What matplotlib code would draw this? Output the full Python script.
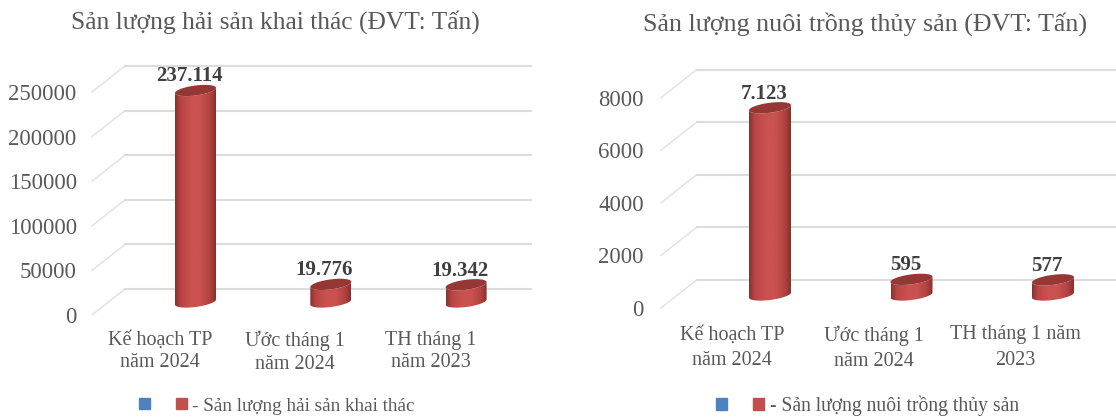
import numpy as np
import matplotlib
matplotlib.use("Agg")
import matplotlib.pyplot as plt
from matplotlib.colors import LinearSegmentedColormap
from matplotlib.patches import Patch, PathPatch
from matplotlib.path import Path

plt.rcParams['font.family'] = ['Liberation Serif', 'DejaVu Serif']

# Data
left_title = "Sản lượng hải sản khai thác (ĐVT: Tấn)"
left_categories = ["Kế hoạch TP\nnăm 2024", "Ước tháng 1\nnăm 2024", "TH tháng 1\nnăm 2023"]
left_values = [237114, 19776, 19342]
left_labels = ["237.114", "19.776", "19.342"]
left_ticks = [0, 50000, 100000, 150000, 200000, 250000]
left_legend = "- Sản lượng hải sản khai thác"

right_title = "Sản lượng nuôi trồng thủy sản (ĐVT: Tấn)"
right_categories = ["Kế hoạch TP\nnăm 2024", "Ước tháng 1\nnăm 2024", "TH tháng 1 năm\n2023"]
right_values = [7123, 595, 577]
right_labels = ["7.123", "595", "577"]
right_ticks = [0, 2000, 4000, 6000, 8000]
right_legend = "- Sản lượng nuôi trồng thủy sản"

W, H = 1116, 419
TEXT = "#595959"
GRID = "#dcdcdc"
bar_cmap = LinearSegmentedColormap.from_list(
    "bar", [(0, "#8a302e"), (0.14, "#b84644"), (0.4, "#ca5250"), (0.62, "#ca5250"),
            (0.86, "#b04240"), (1, "#85302e")])

fig = plt.figure(figsize=(W / 100, H / 100), dpi=100)


# Draw one chart with a fake 3D look. Geometry is given in picture pixels
def draw_chart(cfg, title, categories, values, labels, ticks, legend_text):
    x0, x1, zero_y, top_y, top_tick_y = cfg["x0"], cfg["x1"], cfg["zero_y"], cfg["top_y"], cfg["top_tick_y"]
    ax = fig.add_axes([x0 / W, 1 - zero_y / H, (x1 - x0) / W, (zero_y - top_y) / H])
    ax.patch.set_alpha(0)

    units_per_px = ticks[-1] / (zero_y - top_tick_y)
    cat_per_px = 1 / cfg["step"]
    xmin = -(cfg["first_cat"] - x0) * cat_per_px
    xmax = xmin + (x1 - x0) * cat_per_px
    ymax = (zero_y - top_y) * units_per_px

    # gridlines on floor edge and back wall
    dx = cfg["depth_x"] * cat_per_px
    dy = cfg["depth_y"] * units_per_px
    for t in ticks:
        ax.plot([xmin, xmin + dx], [t, t + dy], color="#e3e3e3", lw=1.1, zorder=1, clip_on=False)
        ax.plot([xmin + dx, xmax], [t + dy, t + dy], color=GRID, lw=1.5, zorder=1, clip_on=False)

    # cylinders
    a = cfg["bar_w"] / 2 * cat_per_px
    b = 5.0 * units_per_px
    k = 2.6 * units_per_px
    base = cfg["base_up"] * units_per_px
    shift = cfg["bar_shift"] * cat_per_px
    for i, v in enumerate(values):
        cx = i + shift
        top = v + base
        t = np.linspace(0, 2 * np.pi, 80)
        ell_x = cx + a * np.cos(t)
        ell_dy = b * np.sin(t) + k * np.cos(t)

        # outline of the body: top rim, then round the bottom rim
        lower = np.linspace(np.pi, 2 * np.pi, 40)
        low_x = cx + a * np.cos(lower)
        low_y = base + b * np.sin(lower) + k * np.cos(lower)
        upper_x = low_x[::-1]
        upper_y = top + b * np.sin(lower[::-1]) + k * np.cos(lower[::-1])
        verts = np.column_stack([np.r_[low_x, upper_x], np.r_[low_y, upper_y]])
        body = PathPatch(Path(np.vstack([verts, verts[0]])), transform=ax.transData,
                         facecolor="none", edgecolor="none")
        ax.add_patch(body)
        grad = np.linspace(0, 1, 128).reshape(1, -1)
        im = ax.imshow(grad, cmap=bar_cmap, aspect="auto", zorder=3,
                       extent=[cx - a, cx + a, base - 2 * b - k, top + 2 * b + k])
        im.set_clip_path(body)
        ax.fill(ell_x, top + ell_dy, color="#953735", lw=0, zorder=4)

        ax.text(i + cfg["label_shift"] * cat_per_px, top + 4 * units_per_px, labels[i],
                ha="center", va="bottom", fontsize=15, fontweight="bold", color="#404040",
                zorder=5, clip_on=False)

    ax.set_xlim(xmin, xmax)
    ax.set_ylim(0, ymax)
    ax.set_xticks(range(len(categories)))
    ax.set_xticklabels(categories, fontsize=14.5, color=TEXT, linespacing=cfg["line_gap"])
    ax.set_yticks(ticks)
    ax.set_yticklabels([str(t) for t in ticks], fontsize=16.4, color=TEXT)
    ax.tick_params(length=0)
    ax.tick_params(axis="x", pad=cfg["xpad"])
    ax.tick_params(axis="y", pad=cfg["ypad"])
    for spine in ax.spines.values():
        spine.set_visible(False)

    fig.text(cfg["title_x"] / W, 1 - cfg["title_y"] / H, title, ha="center", va="center",
             fontsize=cfg["title_size"], color=TEXT)

    handles = [Patch(color="#4f81bd"), Patch(color="#c0504d")]
    fig.legend(handles, ["", legend_text], ncols=2, frameon=False, fontsize=cfg["legend_size"], labelcolor=TEXT,
               loc="center left", bbox_to_anchor=(cfg["legend_x"] / W, 1 - 406 / H),
               handlelength=0.55, handleheight=0.55, handletextpad=0.3,
               columnspacing=cfg["legend_gap"], borderpad=0, borderaxespad=0)
    return ax


left_cfg = dict(x0=92, x1=531, zero_y=315, top_y=60, top_tick_y=92, step=135.3, first_cat=160,
                depth_x=33, depth_y=26, bar_w=41, bar_shift=35.5, base_up=13, label_shift=29,
                xpad=11.5, ypad=11, line_gap=1.24, title_x=275, title_y=22, title_size=18.4,
                legend_x=139, legend_gap=1.08, legend_size=13.8)
right_cfg = dict(x0=661, x1=1116, zero_y=308, top_y=60, top_tick_y=97.7, step=141.5, first_cat=732,
                 depth_x=35.5, depth_y=28, bar_w=42, bar_shift=38, base_up=13, label_shift=32,
                 xpad=12.5, ypad=12.5, line_gap=1.44, title_x=865, title_y=24, title_size=18.7,
                 legend_x=716, legend_gap=1.05, legend_size=14.1)

draw_chart(left_cfg, left_title, left_categories, left_values, left_labels, left_ticks, left_legend)
draw_chart(right_cfg, right_title, right_categories, right_values, right_labels, right_ticks, right_legend)

fig.savefig("out.png", dpi=100)
